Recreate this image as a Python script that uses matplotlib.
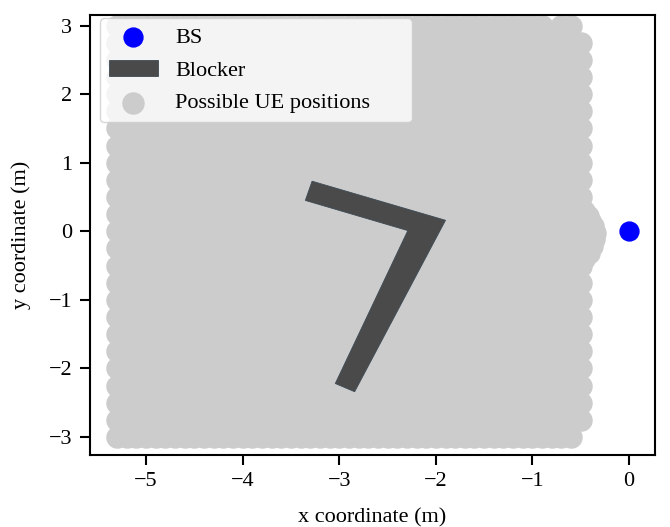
import numpy as np
import matplotlib
matplotlib.use("Agg")
import matplotlib.pyplot as plt
from matplotlib.patches import Polygon

# base station
bs_x = [0.0]
bs_y = [0.0]

# blocker outline ("7" shape), in metres
blocker_x = [-3.28, -1.90, -2.84, -3.04, -2.29, -3.35]
blocker_y = [0.73, 0.16, -2.34, -2.22, 0.01, 0.45]

# candidate UE grid: rows of points, 0.1 m apart in x, starting at x_min
ue_x_min = -5.3
ue_dx = 0.1
ue_rows_y = [-3.0, -2.75, -2.5, -2.25, -2.0, -1.75, -1.5, -1.25, -1.0, -0.75,
             -0.5, -0.25, 0.0, 0.25, 0.5, 0.75, 1.0, 1.25, 1.5, 1.75,
             2.0, 2.25, 2.5, 2.75, 3.0]
ue_rows_xmax = [-0.6, -0.5, -0.5, -0.5, -0.5, -0.5, -0.5, -0.5, -0.5, -0.5,
                -0.5, -0.5, -0.5, -0.5, -0.5, -0.5, -0.5, -0.5, -0.5, -0.5,
                -0.5, -0.5, -0.5, -0.5, -0.6]
ue_missing = [(-0.8, 3.0)]
# extra points of the bump next to the BS
ue_extra_x = [-0.47, -0.43, -0.40, -0.37, -0.35, -0.36, -0.38, -0.42, -0.47]
ue_extra_y = [0.29, 0.22, 0.15, 0.08, -0.02, -0.12, -0.22, -0.31, -0.40]

ue_x = []
ue_y = []
for y, xmax in zip(ue_rows_y, ue_rows_xmax):
    n = int(round((xmax - ue_x_min) / ue_dx)) + 1
    for i in range(n):
        x = round(ue_x_min + i * ue_dx, 2)
        if any(abs(x - mx) < 1e-6 and abs(y - my) < 1e-6 for mx, my in ue_missing):
            continue
        ue_x.append(x)
        ue_y.append(y)
ue_x += ue_extra_x
ue_y += ue_extra_y

plt.rcParams['font.family'] = ['Liberation Serif', 'DejaVu Serif']
plt.rcParams['font.size'] = 16
plt.rcParams['axes.linewidth'] = 1.5

fig = plt.figure(figsize=(6.7, 5.27), dpi=100)
ax = fig.add_axes([0.134, 0.137, 0.844, 0.834])

ax.scatter(ue_x, ue_y, s=230, color='#cccccc', zorder=1, label='Possible UE positions')
blocker = Polygon(list(zip(blocker_x, blocker_y)), closed=True, facecolor='#4a4a4a',
                  edgecolor='#3d4a55', linewidth=0.6, zorder=2, label='Blocker')
ax.add_patch(blocker)
ax.scatter(bs_x, bs_y, s=185, color='blue', zorder=3, label='BS')

ax.set_xlim(-5.58, 0.27)
ax.set_ylim(-3.26, 3.15)
ax.set_xticks([-5, -4, -3, -2, -1, 0])
ax.set_yticks([-3, -2, -1, 0, 1, 2, 3])
ax.tick_params(width=1.5, length=7.5, pad=5)
ax.set_xlabel('x coordinate (m)', labelpad=12)
ax.set_ylabel('y coordinate (m)', labelpad=13)

handles, labels = ax.get_legend_handles_labels()
order = [labels.index('BS'), labels.index('Blocker'), labels.index('Possible UE positions')]
ax.legend([handles[i] for i in order], [labels[i] for i in order], loc='upper left',
          bbox_to_anchor=(0.0177, 0.5, 0.552, 0.493), mode='expand', borderaxespad=0,
          fontsize=16, labelspacing=0.55, handlelength=2.2)

fig.savefig('out.png', dpi=100)
